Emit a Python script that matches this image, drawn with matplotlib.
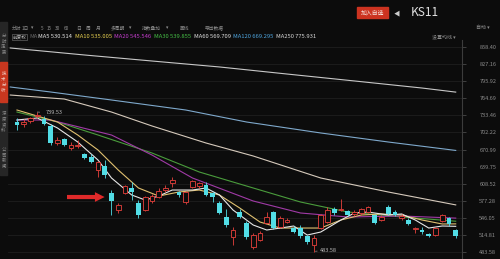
import matplotlib.pyplot as plt
from matplotlib.patches import Rectangle

plt.rcParams['font.family'] = ['Noto Sans CJK SC', 'DejaVu Sans']

# daily candles
opens = [721, 718, 724, 733, 726, 714, 683, 690, 674, 677, 662, 658, 634, 640, 591, 560, 592,
         601, 573, 560, 576, 584, 597, 609, 593, 575, 602, 604, 606, 591, 574, 547, 511, 556,
         536, 492, 506, 537, 557, 529, 538, 527, 527, 512, 497, 527, 538, 562, 561, 558, 553,
         555, 557, 551, 542, 566, 557, 545, 543, 526, 524, 516, 515, 540, 545, 523]
closes = [716, 722, 728, 734, 718, 683, 689, 679, 679, 679, 655, 649, 648, 624, 576, 569, 604,
          593, 551, 584, 586, 596, 600, 615, 588, 593, 613, 609, 588, 585, 555, 533, 523, 548,
          511, 514, 518, 547, 527, 545, 542, 521, 512, 501, 510, 551, 560, 555, 562, 551, 557,
          562, 565, 536, 548, 553, 551, 550, 535, 528, 520, 513, 527, 551, 535, 512]
highs = [729, 726, 731, 739.53, 733, 718, 694, 692, 684, 688, 664, 662, 650, 651, 597, 573, 606,
         611, 578, 586, 590, 600, 606, 620, 596, 596, 615, 612, 611, 593, 576, 563, 529, 563,
         540, 518, 522, 556, 559, 549, 545, 531, 533, 514, 514, 553, 565, 566, 580, 560, 560,
         564, 568, 553, 551, 570, 560, 553, 546, 529, 530, 518, 529, 553, 548, 526]
lows = [707, 712, 720, 729, 716, 679, 680, 677, 670, 673, 653, 646, 621, 619, 551, 555, 590,
        578, 546, 558, 574, 583, 594, 602, 585, 571, 600, 601, 586, 575, 553, 529, 496, 545,
        508, 489, 503, 534, 525, 527, 536, 518, 509, 498, 483.58, 525, 536, 552, 558, 549, 550,
        552, 554, 534, 540, 551, 549, 542, 533, 518, 517, 511, 512, 538, 532, 510]

# moving averages (candle index, value)
ma5_idx = [0, 3, 6, 9, 12, 14, 17, 19, 21, 23, 26, 28, 30, 32, 35, 37, 39, 41, 43, 45, 48, 50,
           52, 55, 57, 59, 61, 63, 65]
ma5_val = [724.9, 728.6, 710.3, 684.7, 651.8, 618.9, 587.8, 578.6, 585.9, 596.9, 596.9, 600.6,
           587.8, 560.4, 532.9, 523.8, 527.4, 531.1, 514.6, 520.1, 542.1, 554.9, 556.7, 551.2,
           553.1, 542.1, 527.4, 531.1, 530.514]
ma10_idx = [0, 3, 6, 9, 12, 15, 18, 21, 24, 27, 30, 33, 36, 39, 42, 45, 48, 51, 54, 57, 60, 63, 65]
ma10_val = [743.2, 732.2, 721.3, 697.5, 670.1, 633.5, 600.6, 585.9, 593.3, 596.9, 587.8, 564.0,
            538.4, 527.4, 527.4, 527.4, 542.1, 551.2, 553.1, 551.2, 542.1, 534.8, 535.005]
ma20_idx = [0, 5, 14, 20, 26, 35, 42, 49, 57, 65]
ma20_val = [724.9, 724.9, 697.5, 660.9, 618.9, 576.8, 554.9, 547.6, 549.4, 545.546]
ma30_idx = [0, 6, 12, 20, 27, 35, 42, 49, 57, 65]
ma30_val = [739.5, 721.3, 697.5, 664.6, 629.9, 600.6, 575.0, 556.7, 547.6, 539.855]
ma60_idx = [-1, 7, 14, 20, 28, 35, 45, 55, 65]
ma60_val = [770.6, 763.3, 739.5, 714.0, 682.9, 659.1, 618.9, 593.3, 569.709]
ma120_idx = [-1, 5, 14, 25, 34, 45, 55, 65]
ma120_val = [785.3, 776.1, 761.5, 743.2, 721.3, 701.2, 684.7, 669.295]
ma250_idx = [-1, 10, 20, 30, 40, 50, 60, 65]
ma250_val = [856.6, 843.8, 832.8, 821.9, 809.0, 796.3, 783.4, 775.931]

yticks = [858.40, 827.16, 795.92, 764.69, 733.46, 702.22, 670.99, 639.75, 608.52,
          577.28, 546.05, 514.81, 483.58]

bg = '#0c0c0c'
up_c = '#e8413c'
down_c = '#52dde6'

fig = plt.figure(figsize=(5, 2.59), dpi=100, facecolor=bg)


def T(x, y, s, c='#8c8c8c', fs=4.2, **kw):
    fig.text(x / 500, 1 - y / 259, s, color=c, fontsize=fs, va='center', **kw)


ax = fig.add_axes([8 / 500, 0, 454 / 500, 1 - 40 / 259])
ax.set_facecolor(bg)
ax.set_xlim(-1.33, 65.93)
ax.set_ylim(470.78, 871.2)

ax.set_yticks(yticks)
ax.set_yticklabels(['%.2f' % v for v in yticks])
ax.yaxis.tick_right()
ax.tick_params(axis='y', colors='#555555', labelcolor='#8c8c8c', labelsize=4,
               length=3, width=0.5, pad=9.5)
ax.set_xticks([])
ax.grid(axis='y', color='#1f1f1f', lw=0.6)
for s in ['top', 'left', 'bottom']:
    ax.spines[s].set_visible(False)
ax.spines['right'].set_color('#3c3c3c')
ax.spines['right'].set_linewidth(0.8)

# MA lines
ax.plot(ma250_idx, ma250_val, color='#c8c8c8', lw=0.8)
ax.plot(ma120_idx, ma120_val, color='#7fa9cc', lw=0.8)
ax.plot(ma60_idx, ma60_val, color='#d6cabc', lw=0.8)
ax.plot(ma30_idx, ma30_val, color='#4a9c3c', lw=0.8)
ax.plot(ma20_idx, ma20_val, color='#a03aa6', lw=0.8)
ax.plot(ma10_idx, ma10_val, color='#e0c070', lw=0.8)
ax.plot(ma5_idx, ma5_val, color='#e6e6e6', lw=0.8)

# candles
for i in range(len(opens)):
    o, c, h, l = opens[i], closes[i], highs[i], lows[i]
    if c >= o:
        ax.vlines(i, l, min(o, c), color=up_c, lw=0.6, zorder=3)
        ax.vlines(i, max(o, c), h, color=up_c, lw=0.6, zorder=3)
        ax.bar(i, max(c - o, 1.2), bottom=o, width=0.68, facecolor=bg, edgecolor=up_c,
               lw=0.6, zorder=4)
    else:
        ax.vlines(i, l, h, color=down_c, lw=0.6, zorder=3)
        ax.bar(i, o - c, bottom=c, width=0.72, color=down_c, lw=0, zorder=4)

# high / low marks
ax.annotate('739.53', xy=(3, 739.53), xytext=(4.2, 738), color='#bbbbbb', fontsize=4,
            va='center', arrowprops=dict(arrowstyle='-', color='#bbbbbb', lw=0.4))
ax.annotate('483.58', xy=(44.2, 485), xytext=(44.9, 487), color='#bbbbbb', fontsize=4,
            va='center', arrowprops=dict(arrowstyle='-', color='#bbbbbb', lw=0.4))

# red arrow
ax.annotate('', xy=(13.4, 584.1), xytext=(7.0, 584.1),
            arrowprops=dict(arrowstyle='simple,head_length=0.7,head_width=0.7,tail_width=0.3',
                            color='#e02a2a', lw=0))

# left side tabs
fig.patches.append(Rectangle((0, 1 - 175 / 259), 7 / 500, 153 / 259, transform=fig.transFigure,
                             color='#262626', zorder=0))
fig.patches.append(Rectangle((0, 1 - 102 / 259), 7 / 500, 40 / 259, transform=fig.transFigure,
                             color='#c8371f', zorder=1))
for y0, s, col in [(44, '分时走势', '#8c8c8c'), (82, '技术分析', '#f0d0c8'),
                   (122, '深度资料', '#8c8c8c'), (158, '公司新闻', '#8c8c8c')]:
    T(3.5, y0, '\n'.join(s), c=col, fs=3.2, ha='center', linespacing=1.1)

# top bar
fig.patches.append(Rectangle((357 / 500, 1 - 18 / 259), 31 / 500, 11 / 259,
                             transform=fig.transFigure, color='#cc3320'))
T(372.5, 12.5, '加入自选', c='#f6e6e0', fs=4.2, ha='center')
T(397, 13, '◀', c='#cccccc', fs=4.5, ha='center')
T(411, 13, 'KS11', c='#e2e2e2', fs=8.5)

# toolbar
for x, s in [(12, '分时'), (22, '1日'), (31, '▾'), (41, '5'), (47, '15'), (55, '30'), (64, '60'),
             (76, '日'), (86, '周'), (96, '月'), (111, '多周期'), (129, '▾'), (142, '指数叠加'),
             (166, '▾'), (180, '画线'), (205, '导出数据')]:
    T(x, 28, s, fs=3.4)
T(476, 27, '自动 ▾', fs=3.6)
T(432, 36.5, '设置均线 ▾', fs=3.6)

T(12.5, 37, '前复权', c='#bbbbbb', fs=3.3,
  bbox=dict(boxstyle='square,pad=0.15', fc='none', ec='#777777', lw=0.4))
T(29, 37, 'MA', c='#666666')
x0 = 38
for s, col in [('MA5 530.514', '#e6e6e6'), ('MA10 535.005', '#e8d050'),
               ('MA20 545.546', '#c43ccc'), ('MA30 539.855', '#46c046'),
               ('MA60 569.709', '#e0e0e0'), ('MA120 669.295', '#4fa6df'),
               ('MA250 775.931', '#d8d8d8')]:
    T(x0, 37, s, c=col)
    x0 += len(s) * 3.1 + 2.5

fig.savefig('out.png', dpi=100, facecolor=bg)
